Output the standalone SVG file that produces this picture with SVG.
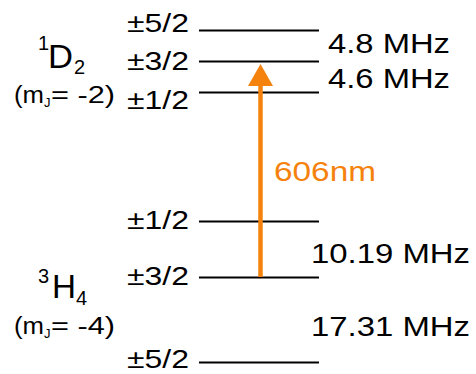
<svg xmlns="http://www.w3.org/2000/svg" width="476" height="374" viewBox="0 0 476 374">
<style>
text{font-family:"Liberation Sans",Arial,sans-serif;fill:#000}
.lvl{stroke:#000;stroke-width:2}
.m{font-size:26px;text-anchor:end}
.f{font-size:28px}
.big{font-size:33px}
.sm{font-size:20px}
.mj{font-size:23px}
.j{font-size:13px}
.or{fill:#F5820D}
</style>
<g id="levels">
<line class="lvl" x1="199" y1="30.5" x2="319" y2="30.5"/>
<line class="lvl" x1="199" y1="61.5" x2="319" y2="61.5"/>
<line class="lvl" x1="199" y1="92.5" x2="319" y2="92.5"/>
<line class="lvl" x1="199" y1="221.5" x2="319" y2="221.5"/>
<line class="lvl" x1="199" y1="277.5" x2="319" y2="277.5"/>
<line class="lvl" x1="199" y1="362.5" x2="319" y2="362.5"/>
</g>
<g id="mlabels">
<text class="m" x="189" y="32" textLength="62" lengthAdjust="spacingAndGlyphs">±5/2</text>
<text class="m" x="189" y="70" textLength="62" lengthAdjust="spacingAndGlyphs">±3/2</text>
<text class="m" x="189" y="109" textLength="62" lengthAdjust="spacingAndGlyphs">±1/2</text>
<text class="m" x="189" y="229" textLength="62" lengthAdjust="spacingAndGlyphs">±1/2</text>
<text class="m" x="189" y="285" textLength="62" lengthAdjust="spacingAndGlyphs">±3/2</text>
<text class="m" x="189" y="368" textLength="62" lengthAdjust="spacingAndGlyphs">±5/2</text>
</g>
<g id="state-1D2">
<text class="sm" x="38" y="50">1</text>
<text class="big" x="48" y="68" textLength="25" lengthAdjust="spacingAndGlyphs">D</text>
<text class="sm" x="74" y="74">2</text>
<text class="mj" x="14" y="103" textLength="30" lengthAdjust="spacingAndGlyphs">(m</text>
<text class="j" x="44" y="107">J</text>
<text class="mj" x="51" y="103" textLength="64" lengthAdjust="spacingAndGlyphs">= -2)</text>
</g>
<g id="state-3H4">
<text class="sm" x="38" y="283">3</text>
<text class="big" x="52" y="298" textLength="24" lengthAdjust="spacingAndGlyphs">H</text>
<text class="sm" x="76" y="305">4</text>
<text class="mj" x="14" y="334" textLength="30" lengthAdjust="spacingAndGlyphs">(m</text>
<text class="j" x="44" y="338">J</text>
<text class="mj" x="51" y="334" textLength="64" lengthAdjust="spacingAndGlyphs">= -4)</text>
</g>
<g id="splittings">
<text class="f" x="328" y="53" textLength="122" lengthAdjust="spacingAndGlyphs">4.8 MHz</text>
<text class="f" x="328" y="88" textLength="122" lengthAdjust="spacingAndGlyphs">4.6 MHz</text>
<text class="f" x="311" y="263" textLength="159" lengthAdjust="spacingAndGlyphs">10.19 MHz</text>
<text class="f" x="311" y="336" textLength="159" lengthAdjust="spacingAndGlyphs">17.31 MHz</text>
</g>
<g id="connectors">
<line x1="260.5" y1="277" x2="260.5" y2="84" stroke="#F5820D" stroke-width="4.5"/>
<polygon points="260.5,64 248,86 273,86" fill="#F5820D"/>
<text class="f or" x="274" y="181" textLength="102" lengthAdjust="spacingAndGlyphs">606nm</text>
</g>
</svg>
